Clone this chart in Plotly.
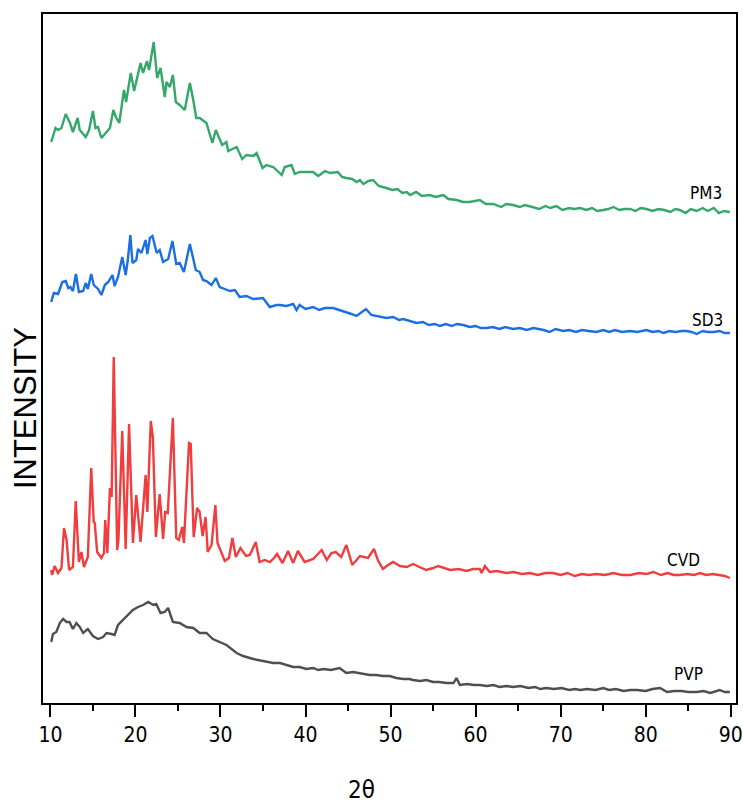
import plotly.graph_objects as go

# ---------------- data (2θ, intensity in arbitrary units) ----------------
pm3_x = [10.1, 10.6, 10.9, 11.3, 11.8, 12.3, 12.65, 13.2, 13.45, 14.15, 14.55, 15.0, 15.3, 15.6, 16.0,
         17.0, 17.4, 17.7, 18.1, 18.35, 18.65, 18.9, 19.45, 19.85, 20.1, 20.6, 20.9, 21.35, 21.6, 22.15,
         22.55, 22.95, 23.45, 23.65, 24.05, 24.4, 24.75, 25.2, 25.8, 26.4, 26.8, 27.15, 27.55, 28.35,
         29.05, 29.45, 30.2, 30.7, 30.9, 31.9, 32.55, 33.05, 33.85, 34.25, 34.95, 35.4, 36.2, 37.2,
         37.55, 38.35, 38.75, 39.3, 40.9, 41.5, 42.3, 42.9, 43.8, 44.3, 44.8, 45.5, 46.0, 46.4, 46.8,
         47.4, 47.95, 48.6, 49.5, 50.2, 50.8, 51.4, 51.9, 52.3, 53.0, 53.7, 54.6, 55.3, 56.2, 56.8,
         57.8, 58.5, 59.3, 60.0, 60.5, 61.2, 62.1, 63.0, 63.6, 64.4, 65.2, 65.8, 66.8, 67.5, 68.2,
         68.8, 69.5, 70.2, 71.0, 71.6, 72.3, 73.0, 73.7, 74.3, 75.0, 75.6, 76.2, 76.9, 77.5, 78.2,
         78.8, 79.4, 80.1, 80.8, 81.5, 82.2, 82.9, 83.5, 84.0, 84.7, 85.3, 86.0, 86.7, 87.3, 88.0,
         88.6, 89.2, 89.9]
pm3_y = [561, 575, 573, 575, 589, 580, 571, 585, 573, 566, 573, 592, 575, 576, 565,
         575, 593, 586, 580, 593, 613, 601, 630, 612, 621, 640, 630, 642, 633, 661,
         625, 635, 606, 621, 616, 628, 601, 598, 593, 620, 603, 585, 585, 580,
         560, 573, 558, 561, 552, 556, 544, 548, 547, 550, 535, 538, 536, 528,
         536, 538, 529, 531, 531, 527, 532, 530, 531, 526, 525, 524, 521, 523, 519,
         522, 523, 517, 515, 513, 514, 510, 511, 508, 511, 507, 508, 506, 508, 504,
         503, 501, 501, 502, 503, 499, 499, 496, 499, 498, 496, 498, 496, 494, 497,
         495, 497, 493, 495, 494, 495, 493, 495, 492, 493, 494, 496, 493, 494, 494,
         492, 495, 494, 492, 494, 493, 491, 494, 493, 490, 494, 492, 495, 492, 495,
         490, 492, 491]

sd3_x = [10.1, 10.4, 10.9, 11.4, 11.8, 12.1, 12.35, 12.65, 13.0, 13.35, 13.85, 14.15, 14.4, 14.8,
         15.1, 15.6, 16.0, 16.4, 16.8, 17.05, 17.3, 17.55, 17.95, 18.45, 18.85, 19.1, 19.4, 19.65,
         20.1, 20.3, 20.7, 21.2, 21.4, 21.7, 22.0, 22.5, 22.85, 23.25, 23.85, 24.35, 24.8, 25.2,
         25.7, 26.4, 26.8, 27.1, 27.55, 27.95, 28.35, 28.95, 29.45, 29.9, 30.5, 31.1, 31.7, 32.25,
         33.05, 33.85, 35.0, 35.8, 36.6, 37.0, 37.75, 38.55, 38.95, 39.3, 40.0, 40.9, 41.6, 42.3,
         43.25, 44.0, 44.8, 45.4, 46.0, 46.5, 47.1, 47.75, 48.5, 49.5, 50.3, 51.0, 51.5, 52.2,
         53.05, 53.8, 54.5, 55.2, 55.8, 56.5, 57.2, 57.8, 58.55, 59.3, 60.0, 60.6, 61.3, 62.0,
         62.8, 63.5, 64.4, 65.2, 66.0, 66.8, 67.4, 68.0, 68.7, 69.4, 70.3, 71.0, 71.8, 72.5,
         73.3, 74.2, 75.0, 75.7, 76.4, 77.2, 78.2, 79.0, 80.1, 80.8, 81.5, 82.1, 82.8, 83.5,
         84.2, 84.8, 85.4, 86.0, 86.7, 87.3, 88.0, 88.7, 89.3, 89.9]
sd3_y = [401, 410, 409, 421, 422, 415, 416, 412, 429, 411, 412, 420, 414, 429,
         418, 414, 408, 418, 421, 425, 428, 417, 426, 446, 428, 443, 468, 440,
         443, 454, 450, 463, 449, 465, 467, 450, 453, 441, 444, 462, 439, 440,
         431, 459, 445, 433, 431, 423, 422, 418, 425, 416, 414, 412, 413, 406,
         407, 404, 405, 396, 398, 398, 397, 399, 393, 398, 394, 396, 393, 395,
         395, 393, 391, 389, 387, 390, 394, 388, 387, 385, 386, 383, 384, 382,
         380, 381, 378, 379, 377, 379, 377, 379, 378, 376, 377, 375, 375, 376,
         374, 376, 374, 375, 373, 375, 374, 373, 371, 374, 372, 373, 371, 373,
         372, 371, 373, 371, 373, 371, 372, 371, 373, 371, 372, 370, 372, 371,
         372, 372, 371, 369, 372, 371, 371, 372, 370, 370]

cvd_x = [10.1, 10.2, 10.5, 10.9, 11.3, 11.6, 11.9, 12.2, 12.65, 12.98, 13.35, 13.65, 13.95, 14.4,
         14.8, 15.1, 15.2, 15.5, 16.0, 16.3, 16.45, 16.7, 17.0, 17.2, 17.45, 17.85, 18.0, 18.45,
         18.85, 19.25, 19.7, 20.1, 20.6, 21.2, 21.4, 21.8, 22.05, 22.4, 22.85, 23.25, 23.5, 23.8,
         24.4, 24.8, 25.1, 25.5, 25.7, 26.3, 26.5, 26.85, 27.25, 27.55, 27.9, 28.25, 28.5, 28.95,
         29.4, 29.65, 30.5, 31.0, 31.4, 31.8, 32.35, 33.0, 33.45, 34.15, 34.6, 35.2, 35.8, 36.3,
         36.65, 37.3, 37.95, 38.55, 39.1, 39.9, 40.9, 41.9, 42.5, 43.05, 43.55, 44.2, 44.8, 45.5,
         46.4, 47.35, 48.05, 48.5, 49.1, 49.7, 50.3, 51.1, 51.9, 52.65, 53.4, 54.2, 55.0, 55.6,
         56.3, 57.0, 58.0, 58.95, 59.7, 60.5, 60.7, 61.1, 61.65, 62.5, 63.6, 64.5, 65.4, 66.4,
         67.3, 68.2, 69.1, 70.0, 70.8, 71.65, 72.5, 73.3, 74.2, 75.2, 76.2, 77.2, 78.2, 79.2,
         80.1, 80.9, 81.8, 82.6, 83.3, 84.0, 84.9, 85.7, 86.4, 87.1, 87.9, 88.7, 89.3, 89.9]
cvd_y = [133, 128, 137, 130, 135, 175, 163, 133, 136, 202, 141, 151, 136, 146,
         235, 180, 181, 151, 145, 150, 183, 150, 215, 206, 346, 153, 163, 272,
         154, 279, 160, 208, 161, 228, 191, 282, 266, 166, 209, 164, 191, 190,
         285, 165, 163, 176, 160, 260, 259, 166, 195, 191, 167, 186, 151, 158,
         198, 160, 142, 145, 165, 146, 155, 147, 148, 161, 141, 143, 141, 145,
         149, 140, 152, 140, 152, 141, 144, 153, 143, 150, 151, 146, 158, 138,
         147, 145, 154, 143, 134, 138, 141, 137, 136, 139, 136, 133, 135, 137,
         135, 133, 134, 132, 134, 134, 130, 137, 131, 132, 130, 131, 129, 130,
         128, 130, 130, 128, 130, 127, 129, 128, 129, 128, 130, 128, 128, 130,
         129, 131, 128, 130, 128, 128, 129, 128, 130, 128, 129, 128, 127, 125]

pvp_x = [10.1, 10.3, 10.7, 11.1, 11.5, 11.9, 12.25, 12.65, 13.05, 13.45, 13.85, 14.4, 15.0, 15.6,
         16.2, 16.6, 17.2, 17.55, 17.95, 18.55, 19.1, 19.7, 20.3, 20.9, 21.5, 22.1, 22.45, 22.95,
         23.45, 23.85, 24.4, 25.2, 26.0, 26.8, 27.55, 28.35, 29.1, 29.9, 30.7, 31.9, 32.65, 33.85,
         35.4, 36.2, 37.0, 37.8, 38.55, 39.3, 40.1, 40.9, 41.5, 42.1, 43.0, 44.0, 44.8, 45.6,
         46.4, 47.0, 47.55, 48.3, 49.1, 49.9, 50.7, 51.5, 52.2, 52.65, 53.5, 54.2, 55.0, 55.7,
         56.6, 57.4, 57.75, 58.15, 59.0, 59.8, 60.5, 61.3, 62.1, 62.8, 63.6, 64.4, 65.3, 66.2,
         67.0, 67.6, 68.3, 69.2, 70.1, 71.0, 71.7, 72.3, 73.1, 74.1, 75.0, 75.7, 76.5, 77.4,
         78.2, 79.0, 80.0, 80.8, 81.7, 82.5, 83.4, 84.2, 85.0, 86.0, 86.8, 87.6, 88.2, 88.7,
         89.3, 89.9]
pvp_y = [61, 69, 71, 80, 84, 81, 81, 74, 80, 76, 70, 74, 67, 64,
         66, 70, 69, 68, 78, 83, 88, 93, 96, 98, 101, 98, 99, 90,
         91, 95, 81, 80, 76, 75, 70, 70, 64, 61, 58, 50, 47, 44,
         41, 40, 40, 38, 36, 36, 34, 35, 33, 34, 33, 35, 30, 31,
         30, 29, 28, 28, 27, 27, 25, 24, 24, 23, 22, 23, 21, 21,
         20, 20, 25, 18, 19, 18, 18, 17, 18, 16, 17, 16, 17, 15,
         16, 14, 15, 14, 15, 13, 14, 13, 14, 13, 15, 13, 14, 12,
         13, 13, 12, 14, 15, 11, 12, 12, 11, 11, 12, 10, 12, 13,
         11, 11]

labels = ["PM3", "SD3", "CVD", "PVP"]
label_x = [89.25, 89.3, 86.6, 87.0]
label_y = [510, 383, 143, 29]
colors = ["#34a86a", "#1b6fe0", "#f03e3e", "#4f4f4f"]

x_ticks = [10, 20, 30, 40, 50, 60, 70, 80, 90]
x_minor = [15, 25, 35, 45, 55, 65, 75, 85]

# ---------------- figure ----------------
series = [(pm3_x, pm3_y), (sd3_x, sd3_y), (cvd_x, cvd_y), (pvp_x, pvp_y)]
fig = go.Figure()
for (xs, ys), name, col in zip(series, labels, colors):
    fig.add_trace(go.Scatter(x=xs, y=ys, mode="lines", name=name,
                             line=dict(color=col, width=2.4), showlegend=False))

narrow = "DejaVu Sans Condensed, Liberation Sans Narrow, Liberation Sans, Arial"
for name, lx, ly in zip(labels, label_x, label_y):
    fig.add_annotation(x=lx, y=ly, text=name, showarrow=False, xanchor="right",
                       yanchor="middle", font=dict(family=narrow, size=17, color="#000"))

# axis titles
fig.add_annotation(xref="paper", yref="paper", x=-0.026, y=0.428, text="INTENSITY",
                   textangle=-90, showarrow=False, xanchor="center", yanchor="middle",
                   font=dict(family="Liberation Sans, Arial", size=31, color="black"))
fig.add_annotation(xref="x", yref="paper", x=46.6, y=-0.1263, text="2θ",
                   showarrow=False, xanchor="center", yanchor="middle",
                   font=dict(family=narrow, size=24, color="black"))

fig.update_layout(
    width=743, height=803,
    margin=dict(l=43, r=7, t=14, b=100),
    paper_bgcolor="white", plot_bgcolor="white",
    xaxis=dict(range=[9.13, 90.62], tickvals=x_ticks, ticktext=[str(v) for v in x_ticks],
               automargin=False, ticklabeloverflow="allow",
               ticks="outside", ticklen=12, tickwidth=2, tickcolor="black",
               showline=True, linewidth=2, linecolor="black", mirror=True,
               showgrid=False, zeroline=False,
               tickfont=dict(family=narrow, size=21, color="black"),
               minor=dict(tickvals=x_minor, ticks="outside",
                          ticklen=6, tickwidth=2, tickcolor="black", showgrid=False)),
    yaxis=dict(range=[0, 689], showticklabels=False, ticks="",
               automargin=False,
               showline=True, linewidth=2, linecolor="black", mirror=True,
               showgrid=False, zeroline=False),
)

fig.write_html("out.html", config={"displayModeBar": False},
               post_script="document.body.style.margin='0px';")
